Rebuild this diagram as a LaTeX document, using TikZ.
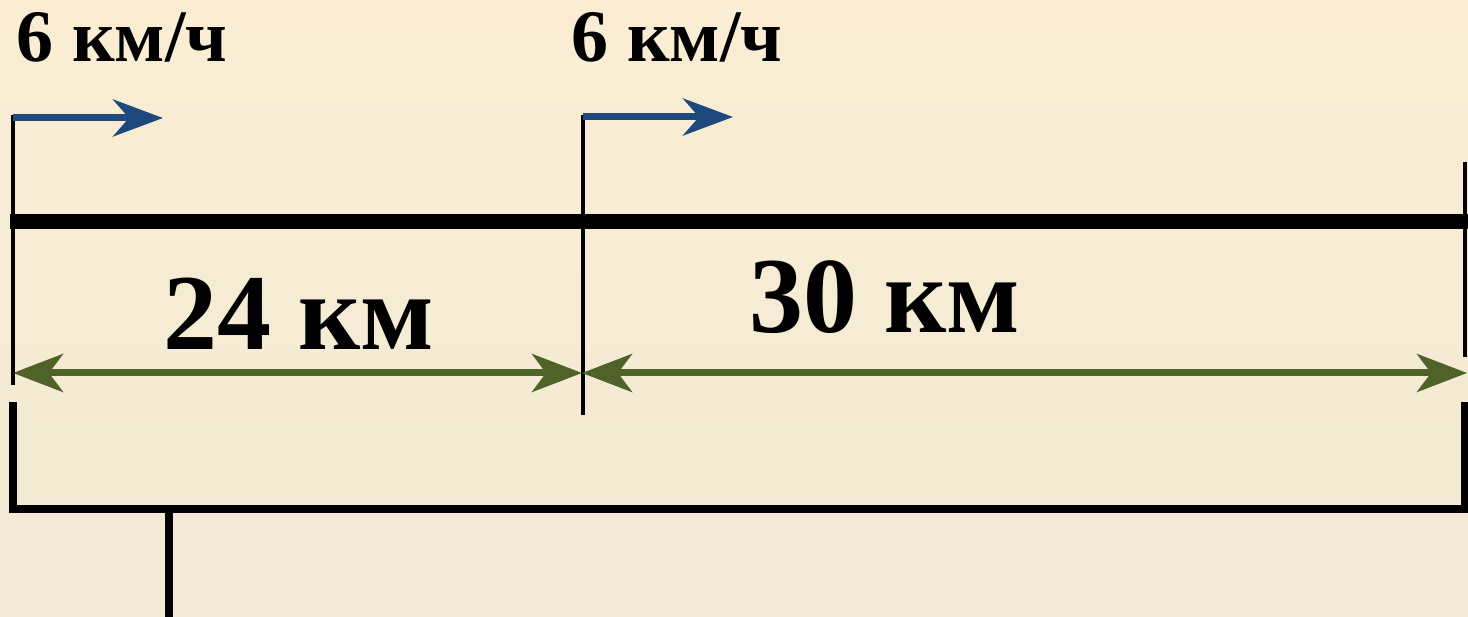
\documentclass[tikz,border=0pt]{standalone}
\usepackage{fontspec}
\setmainfont{Liberation Serif}
\usetikzlibrary{arrows.meta}
\definecolor{bgtop}{RGB}{250,237,211}
\definecolor{bgbot}{RGB}{242,234,214}
\definecolor{speedblue}{RGB}{31,73,125}
\definecolor{distgreen}{RGB}{79,98,40}
\begin{document}
\begin{tikzpicture}[x=1pt,y=-1pt,
  mark line/.style={draw=black, line width=4.5pt},
  road/.style={draw=black, line width=15pt},
  bracket/.style={draw=black, line width=8pt},
  speed/.style={draw=speedblue, line width=7pt, -{Stealth[length=50pt,width=37pt,inset=16pt]}},
  dist/.style={draw=distgreen, line width=7pt, {Stealth[length=50pt,width=38pt,inset=14pt]}-{Stealth[length=50pt,width=38pt,inset=14pt]}},
  smalltext/.style={font=\fontsize{74}{80}\selectfont\bfseries, inner sep=0pt, anchor=base},
  bigtext/.style={font=\fontsize{108}{120}\selectfont\bfseries, inner sep=0pt, anchor=base}]
\shade[top color=bgtop,bottom color=bgbot] (0,0) rectangle (1468,617);
\useasboundingbox (0,0) rectangle (1468,617);

% coordinates
\coordinate (L top) at (13,115);
\coordinate (L bot) at (13,385);
\coordinate (M top) at (583,115);
\coordinate (M bot) at (583,415);
\coordinate (R top) at (1465,162);
\coordinate (R bot) at (1465,357);
\coordinate (road L) at (10,222);
\coordinate (road R) at (1468,222);
\coordinate (v1 start) at (13,118);
\coordinate (v1 end) at (163,118);
\coordinate (v2 start) at (583,117);
\coordinate (v2 end) at (733,117);
\coordinate (d L) at (13,373);
\coordinate (d M) at (582,373);
\coordinate (d R) at (1467,373);
\coordinate (b LT) at (12.5,402);
\coordinate (b LB) at (12.5,509);
\coordinate (b RB) at (1465,509);
\coordinate (b RT) at (1465,402);
\coordinate (stem top) at (169,509);
\coordinate (stem bot) at (169,617);

% marks and road
\draw[mark line] (L top) -- (L bot);
\draw[mark line] (M top) -- (M bot);
\draw[mark line] (R top) -- (R bot);
\draw[road] (road L) -- (road R);

% speed arrows
\draw[speed] (v1 start) -- (v1 end);
\draw[speed] (v2 start) -- (v2 end);

% distance arrows
\draw[dist] (d L) -- (d M);
\draw[dist] (d M) -- (d R);

% bracket
\draw[bracket] (b LT) -- (b LB) -- (b RB) -- (b RT);
\draw[bracket] (stem top) -- (stem bot);

% labels
\node[smalltext] (speed1) at (122,62) {6 км/ч};
\node[smalltext] (speed2) at (677,62) {6 км/ч};
\node[bigtext] (dist1) at (299,350) {24 км};
\node[bigtext] (dist2) at (885,333) {30 км};
\end{tikzpicture}
\end{document}
